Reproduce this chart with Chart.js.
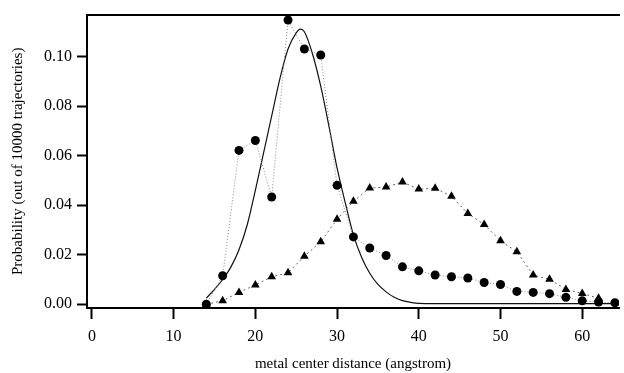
<!DOCTYPE html>
<html>
<head>
  <title>Metal center distance</title>
  <script src="https://cdn.jsdelivr.net/npm/chart.js"></script>
  <style>
    body { margin: 0; background: #fff; }
  </style>
</head>
<body>
  <canvas id="canvas" width="624" height="373"></canvas>
  <script>
    // distances sampled every 2 angstrom
    var distance = [14, 16, 18, 20, 22, 24, 26, 28, 30, 32, 34, 36, 38, 40, 42, 44, 46, 48, 50, 52, 54, 56, 58, 60, 62, 64];
    var circleProb = [0.000, 0.0115, 0.0621, 0.0661, 0.0433, 0.1147, 0.1030, 0.1006, 0.048, 0.0272, 0.0227, 0.0197, 0.0151,
                      0.0135, 0.0118, 0.0111, 0.0106, 0.0088, 0.0080, 0.0052, 0.0048, 0.0043, 0.0028, 0.0014, 0.0009, 0.0006];
    var triangleProb = [0.000, 0.0014, 0.0048, 0.0078, 0.0111, 0.0127, 0.0194, 0.0252, 0.0343, 0.0416, 0.0469, 0.0473, 0.0493,
                        0.0465, 0.0468, 0.0436, 0.0366, 0.0322, 0.0256, 0.0212, 0.0118, 0.0101, 0.0060, 0.0044, 0.0024];

    // fitted curve
    var fitX = [14, 15, 16, 17, 18, 19, 20, 21, 22, 23, 24, 25, 25.5, 26, 27, 28, 29, 30, 31, 32, 33, 34, 35, 36, 37, 38, 39, 40, 42, 46, 50, 55, 60, 64];
    var fitY = [0.0025, 0.006, 0.010, 0.015, 0.022, 0.032, 0.046, 0.061, 0.076, 0.091, 0.103, 0.1095, 0.111, 0.110, 0.101, 0.088, 0.072,
                0.055, 0.041, 0.028, 0.019, 0.0125, 0.008, 0.005, 0.0028, 0.0015, 0.0008, 0.0004, 0.0003, 0.0003, 0.0003, 0.0003, 0.0003, 0.0003];

    var xTicks = [0, 10, 20, 30, 40, 50, 60];
    var yTicks = [0.00, 0.02, 0.04, 0.06, 0.08, 0.10];

    function pairs(xs, ys) {
        return ys.map(function (y, i) { return { x: xs[i], y: y }; });
    }

    var serif = 'Liberation Serif';
    var ctx = document.getElementById('canvas').getContext('2d');

    new Chart(ctx, {
        type: 'scatter',
        data: {
            datasets: [{
                label: 'fit',
                data: pairs(fitX, fitY),
                showLine: true,
                borderColor: '#111',
                borderWidth: 1.2,
                pointRadius: 0,
                cubicInterpolationMode: 'monotone',
                fill: false,
                order: 3
            }, {
                label: 'circles',
                data: pairs(distance, circleProb),
                showLine: true,
                borderColor: '#888',
                borderWidth: 1,
                borderDash: [1, 2],
                pointStyle: 'circle',
                pointRadius: 4.5,
                pointBackgroundColor: '#000',
                pointBorderColor: '#000',
                pointBorderWidth: 0,
                fill: false,
                order: 1
            }, {
                label: 'triangles',
                data: pairs(distance, triangleProb),
                showLine: true,
                borderColor: '#666',
                borderWidth: 1,
                borderDash: [2, 3],
                pointStyle: 'triangle',
                pointRadius: 5,
                pointBackgroundColor: '#000',
                pointBorderColor: '#000',
                pointBorderWidth: 0,
                fill: false,
                order: 2
            }]
        },
        options: {
            responsive: false,
            animation: false,
            maintainAspectRatio: false,
            layout: { padding: 0 },
            plugins: {
                legend: { display: false },
                tooltip: { enabled: false }
            },
            scales: {
                x: {
                    type: 'linear',
                    position: 'bottom',
                    min: -0.6,
                    max: 64.5,
                    afterBuildTicks: function (s) { s.ticks = xTicks.map(function (v) { return { value: v }; }); },
                    afterFit: function (s) { s.height = 65; },
                    grid: { display: true, drawOnChartArea: false, drawTicks: true, tickLength: 11, color: '#000', tickWidth: 2 },
                    border: { display: true, color: '#000', width: 2 },
                    ticks: { color: '#000', font: { family: serif, size: 16 }, padding: 8, maxRotation: 0 },
                    title: {
                        display: true,
                        text: 'metal center distance (angstrom)',
                        color: '#000',
                        font: { family: serif, size: 15 },
                        padding: { top: 6, bottom: 0 }
                    }
                },
                xTop: {
                    type: 'linear',
                    position: 'top',
                    min: -0.6,
                    max: 64.5,
                    afterFit: function (s) { s.height = 14; },
                    grid: { display: false },
                    border: { display: true, color: '#000', width: 2 },
                    ticks: { display: false }
                },
                y: {
                    type: 'linear',
                    min: -0.0015,
                    max: 0.1169,
                    afterBuildTicks: function (s) { s.ticks = yTicks.map(function (v) { return { value: v }; }); },
                    afterFit: function (s) { s.width = 87; },
                    grid: { display: true, drawOnChartArea: false, drawTicks: true, tickLength: 10, color: '#000', tickWidth: 2 },
                    border: { display: true, color: '#000', width: 2 },
                    ticks: {
                        color: '#000',
                        font: { family: serif, size: 16 },
                        padding: 5,
                        callback: function (v) { return v.toFixed(2); }
                    },
                    title: {
                        display: true,
                        text: 'Probability (out of 10000 trajectories)',
                        color: '#000',
                        font: { family: serif, size: 15 },
                        padding: { top: 9, bottom: 4 }
                    }
                }
            }
        }
    });
</script>
</body>
</html>
